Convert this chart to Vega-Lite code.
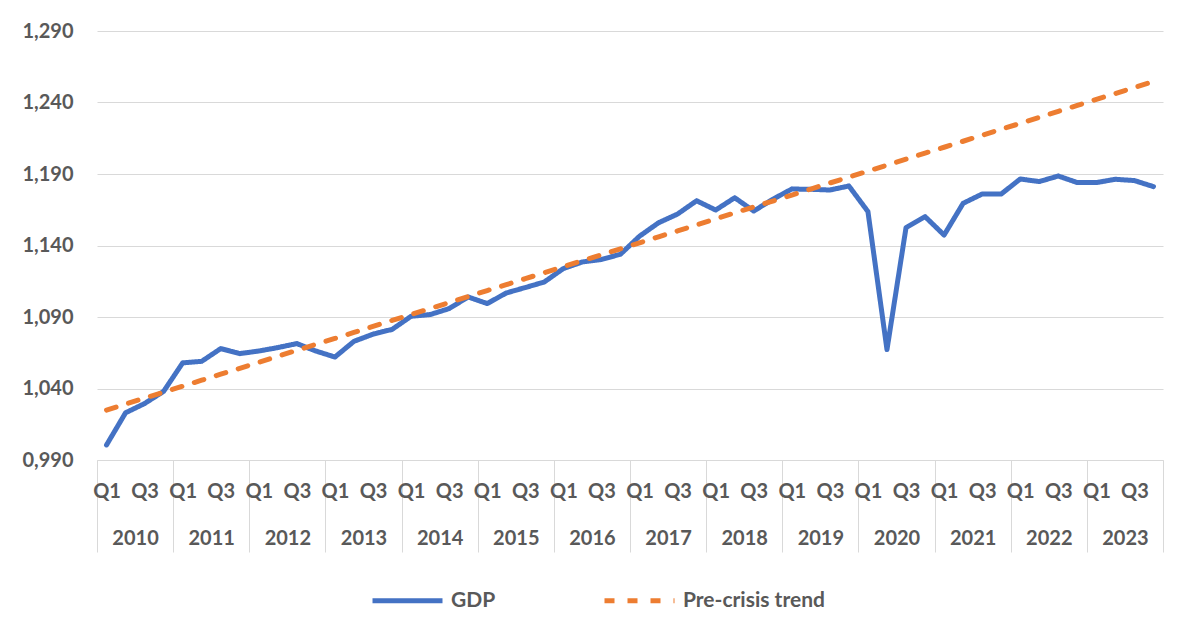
{
  "$schema": "https://vega.github.io/schema/vega-lite/v6.json",
  "width": 1066,
  "height": 429,
  "autosize": {"type": "none"},
  "padding": {"left": 97, "top": 31, "right": 34, "bottom": 175},
  "background": "white",
  "config": {"view": {"stroke": null}, "font": "Lato"},
  "data": {"values": [
    {"q": "2010 Q1", "year": "2010", "GDP": 1000.5, "Pre-crisis trend": 1024.9},
    {"q": "2010 Q2", "year": "2010", "GDP": 1023.0, "Pre-crisis trend": 1029.1},
    {"q": "2010 Q3", "year": "2010", "GDP": 1029.5, "Pre-crisis trend": 1033.3},
    {"q": "2010 Q4", "year": "2010", "GDP": 1038.0, "Pre-crisis trend": 1037.4},
    {"q": "2011 Q1", "year": "2011", "GDP": 1057.9, "Pre-crisis trend": 1041.6},
    {"q": "2011 Q2", "year": "2011", "GDP": 1059.0, "Pre-crisis trend": 1045.8},
    {"q": "2011 Q3", "year": "2011", "GDP": 1067.9, "Pre-crisis trend": 1050.0},
    {"q": "2011 Q4", "year": "2011", "GDP": 1064.4, "Pre-crisis trend": 1054.1},
    {"q": "2012 Q1", "year": "2012", "GDP": 1066.2, "Pre-crisis trend": 1058.3},
    {"q": "2012 Q2", "year": "2012", "GDP": 1068.6, "Pre-crisis trend": 1062.5},
    {"q": "2012 Q3", "year": "2012", "GDP": 1071.4, "Pre-crisis trend": 1066.7},
    {"q": "2012 Q4", "year": "2012", "GDP": 1066.2, "Pre-crisis trend": 1070.9},
    {"q": "2013 Q1", "year": "2013", "GDP": 1062.0, "Pre-crisis trend": 1075.0},
    {"q": "2013 Q2", "year": "2013", "GDP": 1073.0, "Pre-crisis trend": 1079.2},
    {"q": "2013 Q3", "year": "2013", "GDP": 1078.0, "Pre-crisis trend": 1083.4},
    {"q": "2013 Q4", "year": "2013", "GDP": 1081.3, "Pre-crisis trend": 1087.6},
    {"q": "2014 Q1", "year": "2014", "GDP": 1090.5, "Pre-crisis trend": 1091.7},
    {"q": "2014 Q2", "year": "2014", "GDP": 1091.7, "Pre-crisis trend": 1095.9},
    {"q": "2014 Q3", "year": "2014", "GDP": 1095.9, "Pre-crisis trend": 1100.1},
    {"q": "2014 Q4", "year": "2014", "GDP": 1104.0, "Pre-crisis trend": 1104.3},
    {"q": "2015 Q1", "year": "2015", "GDP": 1099.4, "Pre-crisis trend": 1108.5},
    {"q": "2015 Q2", "year": "2015", "GDP": 1106.8, "Pre-crisis trend": 1112.6},
    {"q": "2015 Q3", "year": "2015", "GDP": 1110.6, "Pre-crisis trend": 1116.8},
    {"q": "2015 Q4", "year": "2015", "GDP": 1114.5, "Pre-crisis trend": 1121.0},
    {"q": "2016 Q1", "year": "2016", "GDP": 1123.9, "Pre-crisis trend": 1125.2},
    {"q": "2016 Q2", "year": "2016", "GDP": 1128.5, "Pre-crisis trend": 1129.4},
    {"q": "2016 Q3", "year": "2016", "GDP": 1130.2, "Pre-crisis trend": 1133.5},
    {"q": "2016 Q4", "year": "2016", "GDP": 1133.9, "Pre-crisis trend": 1137.7},
    {"q": "2017 Q1", "year": "2017", "GDP": 1146.5, "Pre-crisis trend": 1141.9},
    {"q": "2017 Q2", "year": "2017", "GDP": 1155.9, "Pre-crisis trend": 1146.1},
    {"q": "2017 Q3", "year": "2017", "GDP": 1162.0, "Pre-crisis trend": 1150.2},
    {"q": "2017 Q4", "year": "2017", "GDP": 1171.3, "Pre-crisis trend": 1154.4},
    {"q": "2018 Q1", "year": "2018", "GDP": 1164.8, "Pre-crisis trend": 1158.6},
    {"q": "2018 Q2", "year": "2018", "GDP": 1173.4, "Pre-crisis trend": 1162.8},
    {"q": "2018 Q3", "year": "2018", "GDP": 1164.1, "Pre-crisis trend": 1167.0},
    {"q": "2018 Q4", "year": "2018", "GDP": 1172.3, "Pre-crisis trend": 1171.1},
    {"q": "2019 Q1", "year": "2019", "GDP": 1179.5, "Pre-crisis trend": 1175.3},
    {"q": "2019 Q2", "year": "2019", "GDP": 1179.3, "Pre-crisis trend": 1179.5},
    {"q": "2019 Q3", "year": "2019", "GDP": 1178.8, "Pre-crisis trend": 1183.7},
    {"q": "2019 Q4", "year": "2019", "GDP": 1181.6, "Pre-crisis trend": 1187.8},
    {"q": "2020 Q1", "year": "2020", "GDP": 1163.7, "Pre-crisis trend": 1192.0},
    {"q": "2020 Q2", "year": "2020", "GDP": 1067.2, "Pre-crisis trend": 1196.2},
    {"q": "2020 Q3", "year": "2020", "GDP": 1152.5, "Pre-crisis trend": 1200.4},
    {"q": "2020 Q4", "year": "2020", "GDP": 1160.2, "Pre-crisis trend": 1204.6},
    {"q": "2021 Q1", "year": "2021", "GDP": 1147.3, "Pre-crisis trend": 1208.7},
    {"q": "2021 Q2", "year": "2021", "GDP": 1169.5, "Pre-crisis trend": 1212.9},
    {"q": "2021 Q3", "year": "2021", "GDP": 1176.0, "Pre-crisis trend": 1217.1},
    {"q": "2021 Q4", "year": "2021", "GDP": 1176.0, "Pre-crisis trend": 1221.3},
    {"q": "2022 Q1", "year": "2022", "GDP": 1186.5, "Pre-crisis trend": 1225.4},
    {"q": "2022 Q2", "year": "2022", "GDP": 1184.7, "Pre-crisis trend": 1229.6},
    {"q": "2022 Q3", "year": "2022", "GDP": 1188.6, "Pre-crisis trend": 1233.8},
    {"q": "2022 Q4", "year": "2022", "GDP": 1184.0, "Pre-crisis trend": 1238.0},
    {"q": "2023 Q1", "year": "2023", "GDP": 1184.0, "Pre-crisis trend": 1242.2},
    {"q": "2023 Q2", "year": "2023", "GDP": 1186.3, "Pre-crisis trend": 1246.3},
    {"q": "2023 Q3", "year": "2023", "GDP": 1185.4, "Pre-crisis trend": 1250.5},
    {"q": "2023 Q4", "year": "2023", "GDP": 1181.2, "Pre-crisis trend": 1254.7}
  ]},
  "transform": [{"fold": ["GDP", "Pre-crisis trend"], "as": ["series", "value"]}],
  "layer": [
    {
      "mark": {"type": "point", "opacity": 0},
      "encoding": {
        "x": {
          "field": "year", "type": "ordinal",
          "scale": {"type": "band", "paddingInner": 0, "paddingOuter": 0},
          "axis": {
            "orient": "bottom", "title": null, "grid": false,
            "domain": true, "domainColor": "#d9d9d9", "domainWidth": 1,
            "ticks": true, "tickBand": "extent", "tickSize": 92, "tickColor": "#d9d9d9", "tickWidth": 1,
            "labelPadding": -24, "labelAngle": 0, "labelFontSize": 20, "labelFontWeight": "bold", "labelColor": "#595959"
          }
        },
        "y": {
          "field": "value", "type": "quantitative",
          "scale": {"domain": [990, 1290], "nice": false, "zero": false},
          "axis": {
            "title": null, "values": [990, 1040, 1090, 1140, 1190, 1240, 1290],
            "labelExpr": "datum.value < 1000 ? '0,' + format(datum.value, '03d') : format(datum.value, ',')",
            "grid": true, "gridColor": "#d9d9d9", "gridWidth": 1,
            "domain": false, "ticks": false, "labelPadding": 24,
            "labelFontSize": 20, "labelFontWeight": "bold", "labelColor": "#595959"
          }
        }
      }
    },
    {
      "mark": {"type": "line", "strokeWidth": 5, "strokeCap": "round", "strokeJoin": "round"},
      "encoding": {
        "x": {
          "field": "q", "type": "ordinal",
          "scale": {"type": "point", "padding": 0.5},
          "axis": {
            "orient": "bottom", "title": null, "grid": false, "domain": false, "ticks": false,
            "labelExpr": "indexof(datum.value, 'Q1') >= 0 ? 'Q1' : (indexof(datum.value, 'Q3') >= 0 ? 'Q3' : '')",
            "labelOverlap": false, "labelPadding": 21, "labelAngle": 0,
            "labelFontSize": 20, "labelFontWeight": "bold", "labelColor": "#595959"
          }
        },
        "y": {
          "field": "value", "type": "quantitative",
          "scale": {"domain": [990, 1290], "nice": false, "zero": false}
        },
        "color": {
          "field": "series", "type": "nominal",
          "scale": {"domain": ["GDP", "Pre-crisis trend"], "range": ["#4472C4", "#ED7D31"]},
          "legend": {
            "orient": "none", "legendX": 273, "legendY": 532, "direction": "horizontal",
            "title": null, "symbolType": "stroke", "symbolSize": 4900, "symbolStrokeWidth": 5,
            "labelFontSize": 21, "labelFontWeight": "bold", "labelColor": "#595959",
            "columnPadding": 98, "labelOffset": 6
          }
        },
        "strokeDash": {
          "field": "series", "type": "nominal",
          "scale": {"domain": ["GDP", "Pre-crisis trend"], "range": [[1, 0], [10, 13]]},
          "legend": {
            "orient": "none", "legendX": 273, "legendY": 532, "direction": "horizontal",
            "title": null, "symbolType": "stroke", "symbolSize": 4900, "symbolStrokeWidth": 5,
            "labelFontSize": 21, "labelFontWeight": "bold", "labelColor": "#595959",
            "columnPadding": 98, "labelOffset": 6
          }
        }
      }
    }
  ],
  "resolve": {"scale": {"x": "independent"}, "axis": {"x": "independent"}}
}
